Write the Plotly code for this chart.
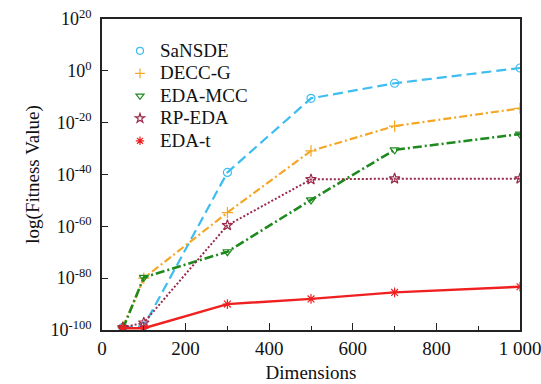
import plotly.graph_objects as go

dims = [50, 100, 300, 500, 700, 1000]
series_names = ["SaNSDE", "DECC-G", "EDA-MCC", "RP-EDA", "EDA-t"]
# log10 of fitness values
sansde = [-99, -98.5, -39.2, -10.6, -4.8, 1.1]
deccg = [-99, -80, -54.7, -30.9, -21.3, -14.5]
edamcc = [-99.5, -79.7, -69.8, -49.8, -30.5, -24.4]
rpeda = [-99, -97.2, -59.6, -41.9, -41.6, -41.6]
edat = [-99.3, -99.3, -90, -88, -85.5, -83.3]
ytick_exps = [-100, -80, -60, -40, -20, 0, 20]
xtick_vals = [0, 200, 400, 600, 800, 1000]
xtick_text = ["0", "200", "400", "600", "800", "1 000"]

all_vals = [sansde, deccg, edamcc, rpeda, edat]
colors = ["#3dbdf0", "#f5a623", "#1e8a1e", "#9a2a4a", "#f02020"]
dashes = ["10px,5px", "8px,3px,2px,3px", "9px,3px,2px,3px", "2px,2px", "solid"]
widths = [2.2, 2.2, 2.6, 2.0, 2.4]
symbols = ["circle-open", "cross-thin-open", "triangle-down-open", "star-open", "asterisk-open"]

fig = go.Figure()
for name, vals, c, d, w, s in zip(series_names, all_vals, colors, dashes, widths, symbols):
    yv = [10.0 ** v for v in vals]
    fig.add_trace(go.Scatter(x=dims, y=yv, mode="lines+markers", name=name,
                             showlegend=False,
                             line=dict(color=c, dash=d, width=w),
                             marker=dict(symbol=s, size=8, color=c,
                                         line=dict(color=c, width=1.2))))
for name, c, s in zip(series_names, colors, symbols):
    fig.add_trace(go.Scatter(x=[None], y=[None], mode="markers",
                             name='<span style="font-size:19px">%s</span>' % name,
                             marker=dict(symbol=s, size=7, color=c,
                                         line=dict(color=c, width=1.2))))

font_family = "Liberation Serif, Times New Roman, DejaVu Serif, serif"
fig.update_layout(
    width=541, height=384,
    margin=dict(l=102, r=21, t=19, b=54, autoexpand=False),
    plot_bgcolor="white", paper_bgcolor="white",
    font=dict(family=font_family, size=18, color="#111"),
    legend=dict(x=0.043, y=0.95, xanchor="left", yanchor="top",
                bgcolor="rgba(0,0,0,0)", font=dict(family=font_family, size=15),
                tracegroupgap=0, itemwidth=30),
    showlegend=True,
)
fig.update_xaxes(range=[0, 1000], tickvals=xtick_vals, ticktext=xtick_text,
                 ticks="inside", ticklen=7, tickcolor="#222", automargin=False,
                 ticklabeloverflow="allow",
                 minor=dict(tickvals=[100, 300, 500, 700, 900], ticks="inside", ticklen=4, tickcolor="#222"),
                 showline=True, linecolor="#222", linewidth=1.5, mirror=True,
                 showgrid=False, zeroline=False,
                 title=dict(text="Dimensions", font=dict(family=font_family, size=19), standoff=8),
                 tickfont=dict(family=font_family, size=19))
fig.update_yaxes(type="log", range=[-100, 20],
                 tickvals=[10.0 ** e for e in ytick_exps],
                 ticktext=["10<sup>%d</sup>" % e for e in ytick_exps],
                 ticks="inside", ticklen=6, tickcolor="#222", automargin=False,
                 ticklabelstandoff=5, ticklabeloverflow="allow",
                 showline=True, linecolor="#222", linewidth=1.5, mirror=True,
                 showgrid=False, zeroline=False,
                 title=dict(text="log(Fitness Value)", font=dict(family=font_family, size=19), standoff=6),
                 tickfont=dict(family=font_family, size=18))

fig.write_html("out.html", config={"displayModeBar": False},
               post_script="document.body.style.margin='0';")
